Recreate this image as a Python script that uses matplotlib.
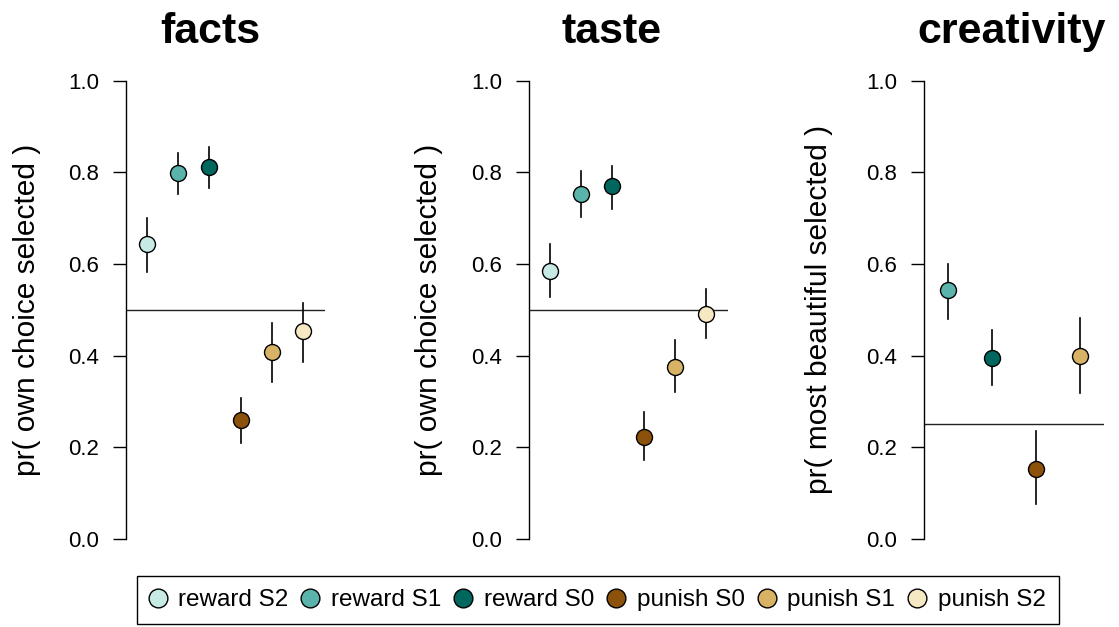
import matplotlib.pyplot as plt
from matplotlib.lines import Line2D

plt.rcParams['font.family'] = ['Liberation Sans', 'DejaVu Sans']

# conditions and colours (BrBG-like palette)
conditions = ['reward S2', 'reward S1', 'reward S0', 'punish S0', 'punish S1', 'punish S2']
colors = ['#C7EAE5', '#5AB4AC', '#01665E', '#8C510A', '#D8B365', '#F6E8C3']

# facts panel
facts_mean = [0.643, 0.799, 0.812, 0.259, 0.407, 0.454]
facts_lo = [0.582, 0.753, 0.766, 0.209, 0.343, 0.387]
facts_hi = [0.701, 0.842, 0.855, 0.308, 0.471, 0.516]

# taste panel
taste_mean = [0.585, 0.753, 0.770, 0.223, 0.376, 0.491]
taste_lo = [0.528, 0.703, 0.719, 0.172, 0.320, 0.438]
taste_hi = [0.644, 0.802, 0.815, 0.278, 0.434, 0.546]

# creativity panel (only four conditions)
creat_idx = [1, 2, 3, 4]
creat_mean = [0.543, 0.394, 0.152, 0.399]
creat_lo = [0.481, 0.335, 0.076, 0.318]
creat_hi = [0.600, 0.456, 0.236, 0.483]

chance = [0.5, 0.5, 0.25]
titles = ['facts', 'taste', 'creativity']
ylabels = ['pr( own choice selected )', 'pr( own choice selected )',
           'pr( most beautiful selected )']
yticks = [0.0, 0.2, 0.4, 0.6, 0.8, 1.0]

W, H = 1119, 627
fig = plt.figure(figsize=(W / 100, H / 100), dpi=100)

# axes boxes in pixels: left, width
boxes = [(126, 199), (529.3, 198.4), (924, 180.3)]
bottom_px, top_px = 557.3, 62.4
title_x = [210, 612, 1012]
label_x = [27, 429, 819]

panels = [
    (list(range(6)), facts_mean, facts_lo, facts_hi),
    (list(range(6)), taste_mean, taste_lo, taste_hi),
    (creat_idx, creat_mean, creat_lo, creat_hi),
]

for i, (idx, mean, lo, hi) in enumerate(panels):
    left, width = boxes[i]
    ax = fig.add_axes([left / W, 1 - bottom_px / H, width / W, (bottom_px - top_px) / H])
    n = len(mean)
    xs = list(range(1, n + 1))
    for x, m, l, h, k in zip(xs, mean, lo, hi, idx):
        ax.plot([x, x], [l, h], color='black', lw=1.2, zorder=2)
        ax.plot(x, m, 'o', ms=11.5, mfc=colors[k], mec='black', mew=1.0, zorder=3)
    ax.axhline(chance[i], color='#222222', lw=1.0, zorder=1)
    if n == 6:
        ax.set_xlim(0.34, 6.69)
    else:
        ax.set_xlim(0.45, 4.55)
    ax.set_ylim(-0.04, 1.04)
    ax.set_yticks(yticks)
    ax.set_yticklabels([f'{t:.1f}' for t in yticks])
    ax.set_xticks([])
    for s in ['top', 'right', 'bottom']:
        ax.spines[s].set_visible(False)
    ax.spines['left'].set_bounds(0, 1)
    ax.spines['left'].set_linewidth(1.0)
    ax.tick_params(axis='y', direction='out', length=9.5, width=1.0, pad=10, labelsize=16)
    ax.set_ylabel(ylabels[i], fontsize=21.5, va='center')
    ax.yaxis.set_label_coords((label_x[i] - left) / width, 0.5)
    ax.patch.set_alpha(0)
    fig.text(title_x[i] / W, 1 - 43 / H, titles[i], fontsize=31, fontweight='bold',
             ha='center', va='baseline')

handles = [Line2D([], [], ls='none', marker='o', ms=13.5, mfc=c, mec='black', mew=1.0)
           for c in colors]
leg = fig.legend(handles, conditions, loc='center', ncol=6,
                 bbox_to_anchor=(598 / W, 1 - 600 / H), fontsize=17.5,
                 handlelength=0.6, handletextpad=0.56, columnspacing=0.59,
                 borderpad=0.55, fancybox=False, edgecolor='black', framealpha=1)
leg.get_frame().set_linewidth(1.0)

fig.savefig('out.png', dpi=100)
